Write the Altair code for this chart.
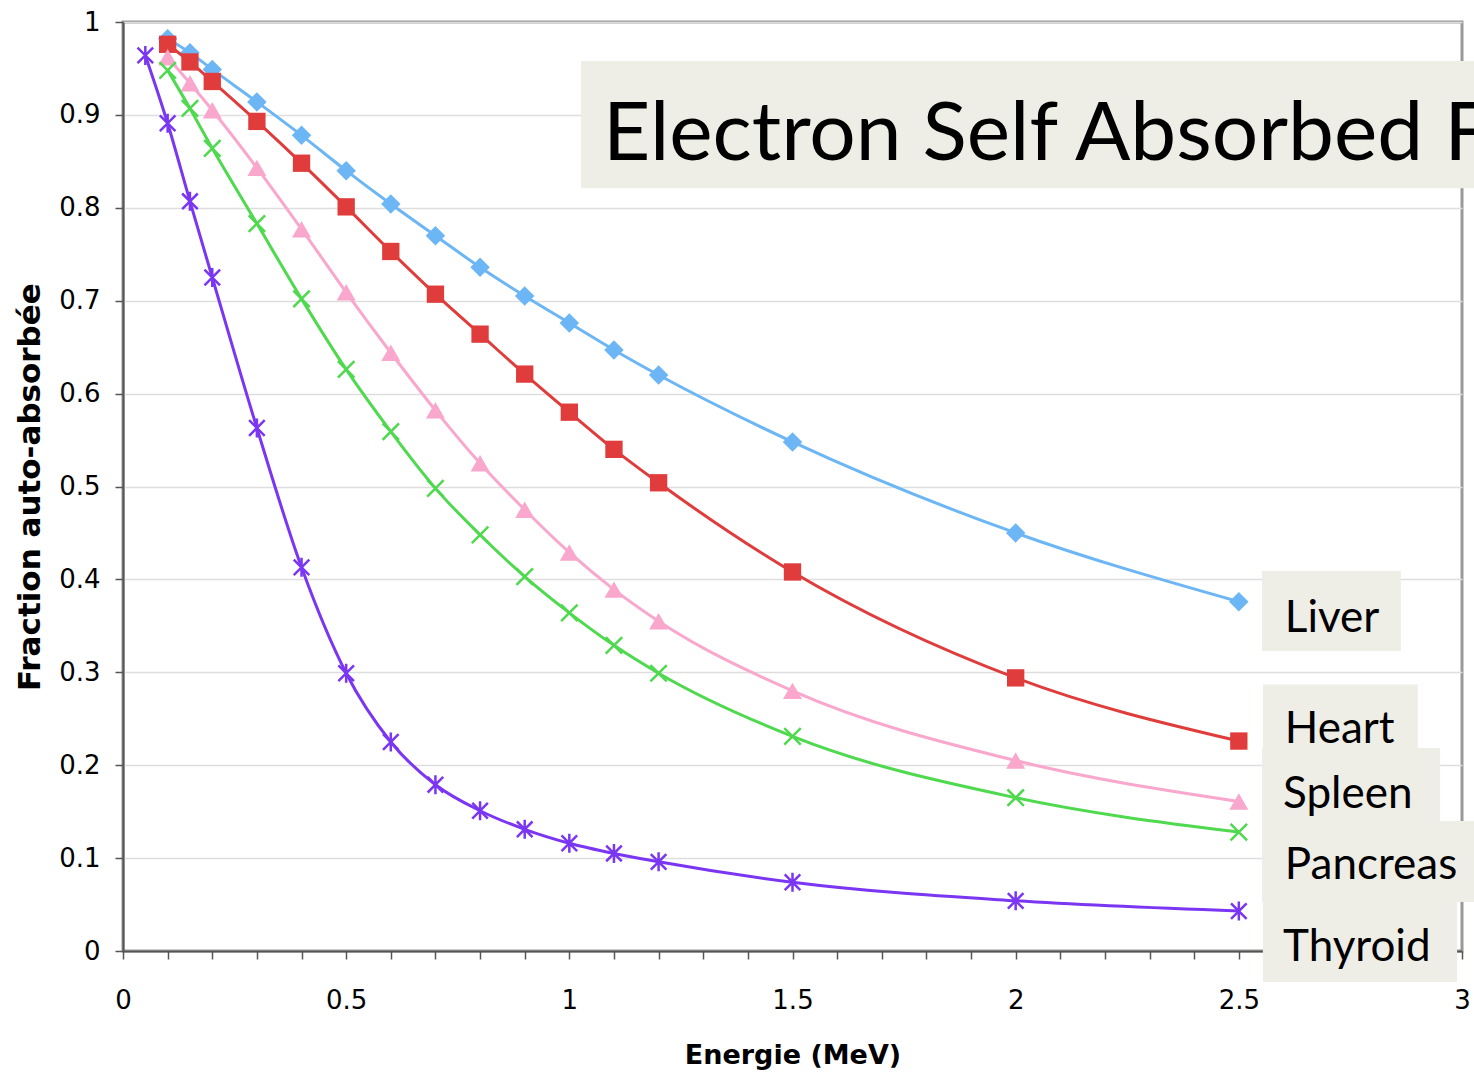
import altair as alt
import pandas as pd

# ---------------- data ----------------
energy = [0.1, 0.15, 0.2, 0.3, 0.4, 0.5, 0.6, 0.7, 0.8, 0.9, 1.0, 1.1, 1.2, 1.5, 2.0, 2.5]
energy_thyroid = [0.05, 0.1, 0.15, 0.2, 0.3, 0.4, 0.5, 0.6, 0.7, 0.8, 0.9, 1.0, 1.1, 1.2, 1.5, 2.0, 2.5]

liver = [0.982, 0.967, 0.949, 0.914, 0.878, 0.840, 0.804, 0.770, 0.736, 0.705,
         0.676, 0.647, 0.620, 0.548, 0.450, 0.376]
heart = [0.976, 0.957, 0.936, 0.893, 0.848, 0.801, 0.753, 0.707, 0.664, 0.621,
         0.580, 0.540, 0.504, 0.408, 0.294, 0.226]
spleen = [0.962, 0.934, 0.905, 0.843, 0.777, 0.709, 0.644, 0.582, 0.525, 0.475,
          0.429, 0.389, 0.355, 0.280, 0.205, 0.161]
pancreas = [0.948, 0.907, 0.864, 0.783, 0.702, 0.626, 0.559, 0.498, 0.448, 0.403,
            0.364, 0.329, 0.299, 0.231, 0.165, 0.128]
thyroid = [0.964, 0.891, 0.807, 0.725, 0.563, 0.413, 0.299, 0.225, 0.179, 0.151,
           0.131, 0.116, 0.105, 0.096, 0.074, 0.054, 0.043]

series_names = ["Liver", "Heart", "Spleen", "Pancreas", "Thyroid"]
title_text = "Electron Self Absorbed Fraction"
x_title = "Energie (MeV)"
y_title = "Fraction auto-absorbée"
x_tick_values = [round(i * 0.1, 1) for i in range(0, 31)]
y_tick_values = [round(i * 0.1, 1) for i in range(0, 11)]

# ---------------- styling ----------------
colors = {
    "Liver": "#6DB6F6",
    "Heart": "#E03C3C",
    "Spleen": "#F9A7CD",
    "Pancreas": "#4FD94F",
    "Thyroid": "#7A36F2",
}
X_PATH = "M-1,-1L1,1M-1,1L1,-1"
AST_PATH = "M-0.9,-0.9L0.9,0.9M-0.9,0.9L0.9,-0.9M0,-1.1L0,1.1"
shapes = {
    "Liver": ("diamond", True, 380),
    "Heart": ("square", True, 300),
    "Spleen": ("triangle-up", True, 360),
    "Pancreas": (X_PATH, False, 270),
    "Thyroid": (AST_PATH, False, 300),
}
values = {
    "Liver": (energy, liver),
    "Heart": (energy, heart),
    "Spleen": (energy, spleen),
    "Pancreas": (energy, pancreas),
    "Thyroid": (energy_thyroid, thyroid),
}

# annotation boxes (data units)
box_x1 = [2.552, 2.554, 2.552, 2.552, 2.554]
box_x2 = [2.863, 2.901, 2.951, 3.06, 2.989]
box_y1 = [0.409, 0.287, 0.2185, 0.1399, 0.0527]
box_y2 = [0.323, 0.2013, 0.1324, 0.0527, -0.0334]
label_x = [2.603, 2.603, 2.599, 2.603, 2.599]
label_y = [0.3434, 0.2239, 0.1539, 0.0775, -0.0108]

title_box = {"x": 1.026, "x2": 3.1, "y": 0.958, "y2": 0.821}
title_pos = {"x": 1.0754, "y": 0.8515}

xscale = alt.Scale(domain=[0, 3], nice=False, zero=False)
yscale = alt.Scale(domain=[0, 1], nice=False, zero=False)

x_axis = alt.Axis(
    values=x_tick_values,
    format=".1~f",
    labelExpr="round(datum.value*10) % 5 == 0 ? datum.label : ''",
    title=x_title,
    grid=False,
    domainColor="#555555", domainWidth=2,
    tickColor="#555555", tickWidth=1.5, tickSize=8,
    labelFont="DejaVu Sans", labelFontSize=26, labelColor="#000000",
    labelPadding=28, labelFlush=False, labelOverlap=False,
    titleFont="DejaVu Sans", titleFontSize=27, titleFontWeight="bold",
    titleColor="#000000", titleY=112, titleBaseline="alphabetic",
)
y_axis = alt.Axis(
    values=y_tick_values,
    format=".1~f",
    title=y_title,
    grid=True, gridColor="#DEDEDE", gridWidth=1.5,
    domainColor="#555555", domainWidth=2,
    tickColor="#555555", tickWidth=1.5, tickSize=8,
    labelFont="DejaVu Sans", labelFontSize=26, labelColor="#000000",
    labelPadding=15, labelFlush=False, labelOverlap=False,
    titleFont="DejaVu Sans", titleFontSize=31, titleFontWeight="bold",
    titleColor="#000000", titleX=-93, titleBaseline="middle", titleAngle=270,
)


def X(field):
    return alt.X(field, type="quantitative", scale=xscale, axis=x_axis, title=x_title)


def Y(field):
    return alt.Y(field, type="quantitative", scale=yscale, axis=y_axis, title=y_title)


layers = []
for name in series_names:
    xs, ys = values[name]
    df = pd.DataFrame({"x": xs, "y": ys})
    base = alt.Chart(df)
    line = base.mark_line(color=colors[name], strokeWidth=3,
                          interpolate="monotone").encode(x=X("x"), y=Y("y"))
    shape, filled, size = shapes[name]
    if filled:
        pts = base.mark_point(shape=shape, filled=True, size=size, opacity=1,
                              color=colors[name], strokeWidth=0)
    else:
        pts = base.mark_point(shape=shape, filled=False, size=size, opacity=1,
                              color=colors[name], strokeWidth=2.5)
    pts = pts.encode(x=X("x"), y=Y("y"))
    layers += [line, pts]

# label boxes
box_df = pd.DataFrame({"x": box_x1, "x2": box_x2, "y": box_y1, "y2": box_y2})
boxes = alt.Chart(box_df).mark_rect(color="#EEEEE6").encode(
    x=X("x"), x2="x2:Q", y=Y("y"), y2="y2:Q",
)
lab_df = pd.DataFrame({"x": label_x, "y": label_y, "label": series_names})
labels = alt.Chart(lab_df).mark_text(
    font="Lato", fontSize=44, color="#000000", align="left", baseline="alphabetic"
).encode(x=X("x"), y=Y("y"), text="label:N")

tb_df = pd.DataFrame([title_box])
tbox = alt.Chart(tb_df).mark_rect(color="#EEEEE6").encode(
    x=X("x"), x2="x2:Q", y=Y("y"), y2="y2:Q",
)
tt_df = pd.DataFrame([{"x": title_pos["x"], "y": title_pos["y"], "t": title_text}])
ttext = alt.Chart(tt_df).mark_text(
    font="Lato", fontSize=82, color="#000000", align="left", baseline="alphabetic"
).encode(x=X("x"), y=Y("y"), text="t:N")

chart = alt.layer(*layers, tbox, ttext, boxes, labels).properties(
    width=1339, height=929,
    autosize=alt.AutoSizeParams(type="none"),
    padding={"left": 123, "top": 22, "right": 12, "bottom": 122},
    background="#FFFFFF",
).configure_view(stroke="#999999", strokeWidth=3)

chart.save("out.html", embed_options={"renderer": "svg", "actions": False})
